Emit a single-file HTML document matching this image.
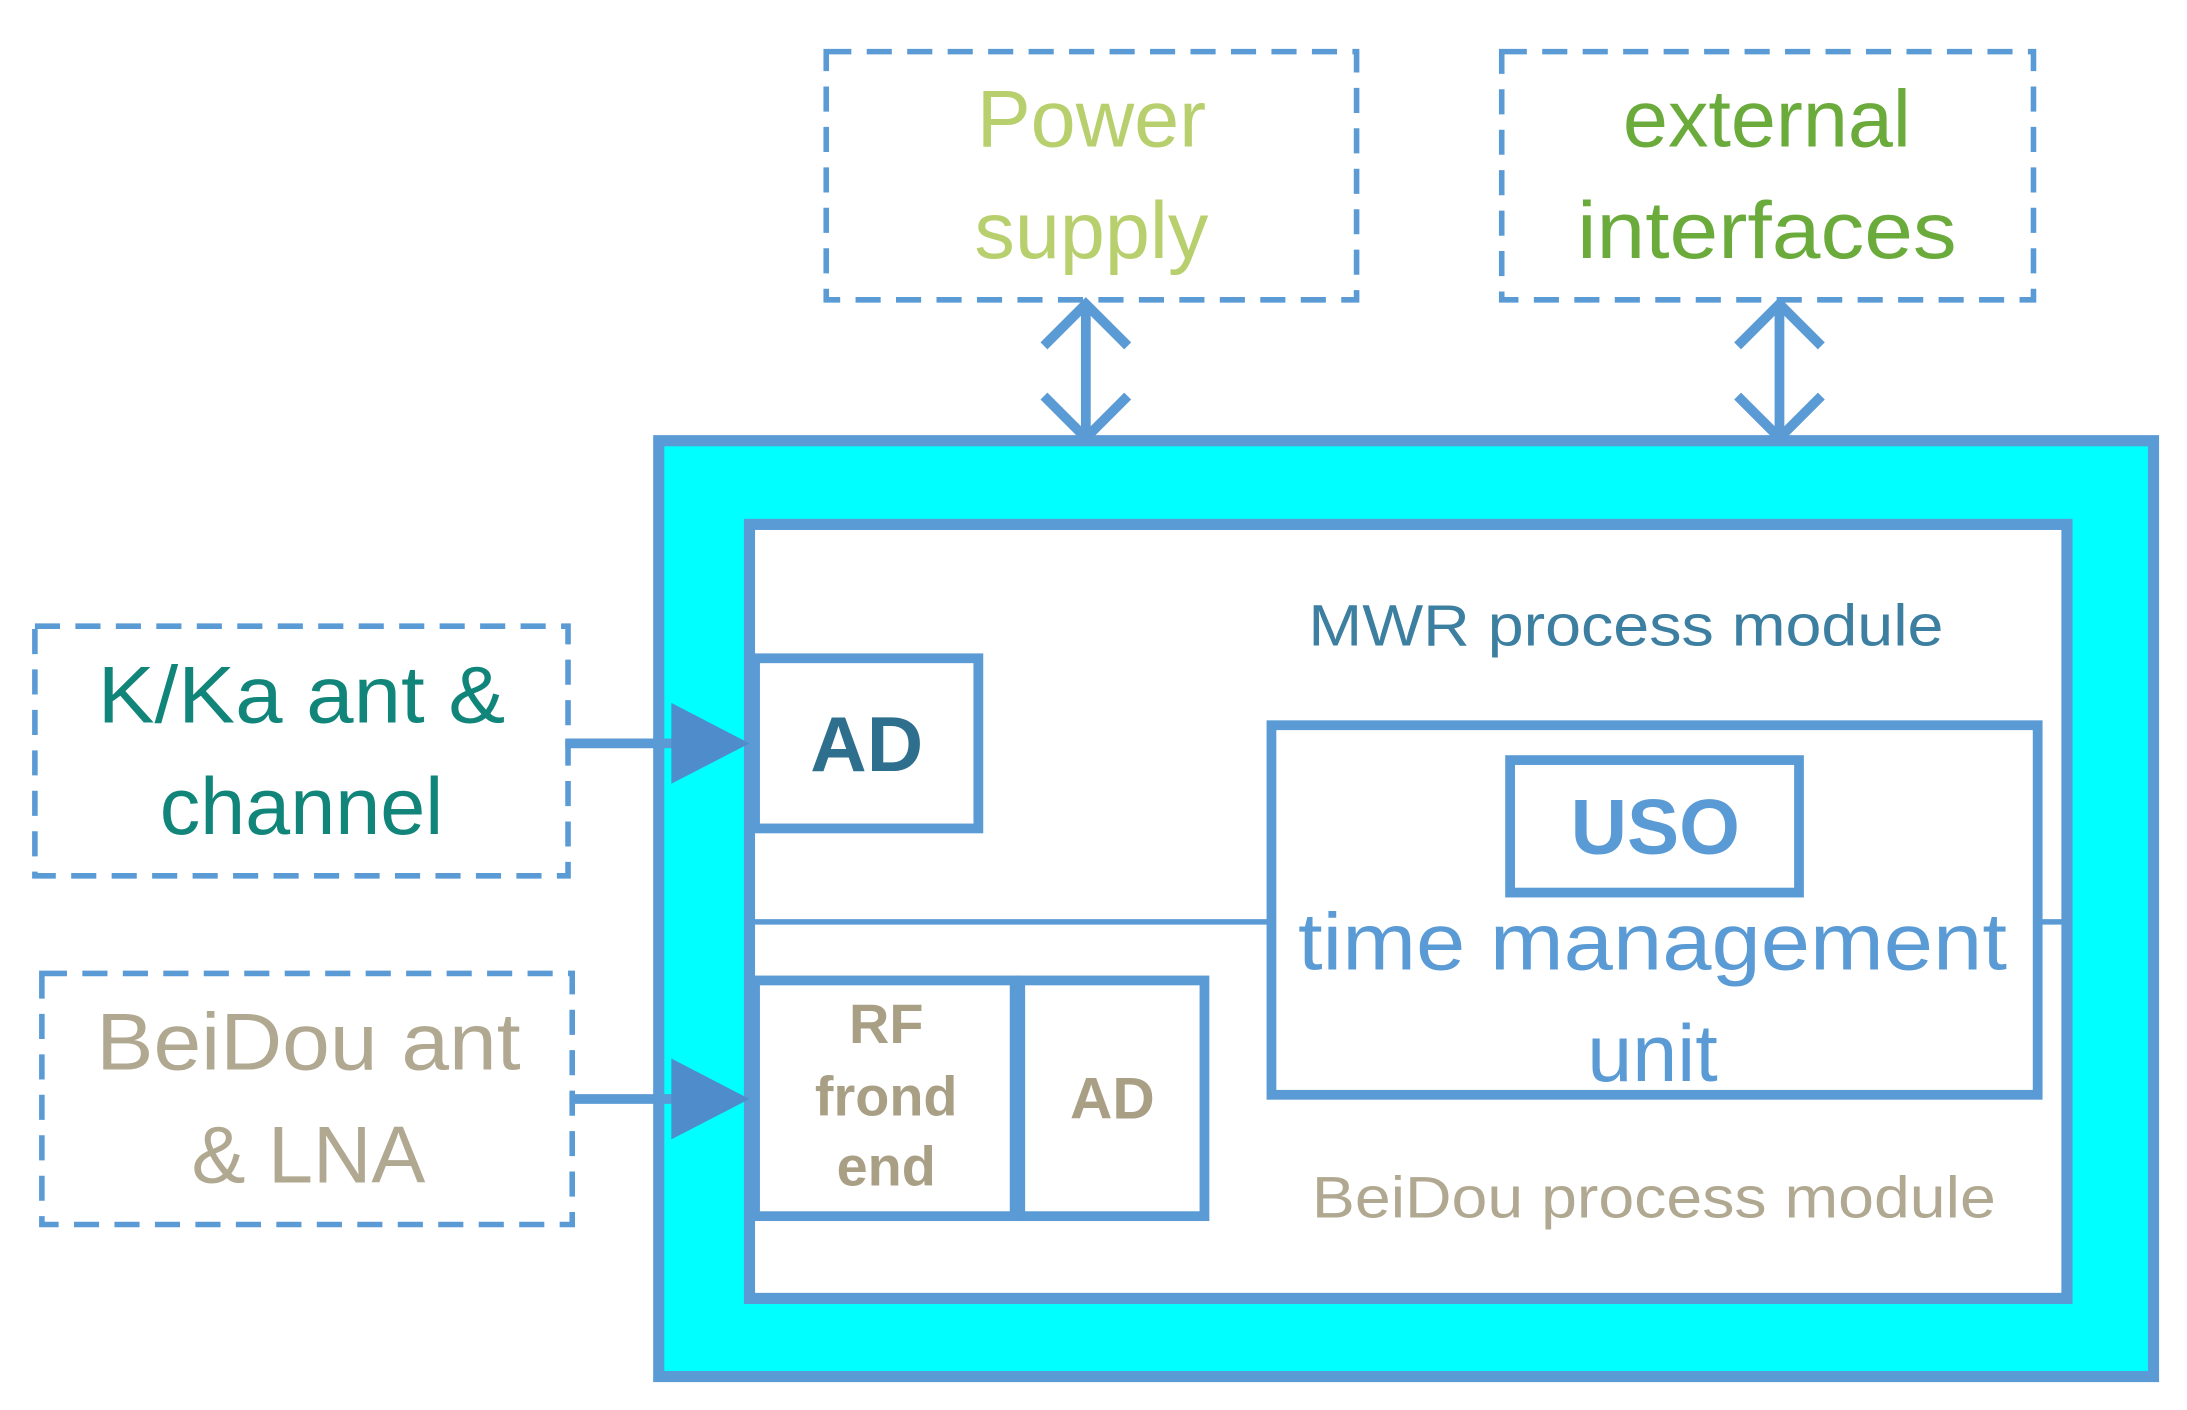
<!DOCTYPE html>
<html><head><style>html,body{margin:0;padding:0;background:#fff}svg{display:block}</style></head>
<body>
<svg width="2187" height="1410" viewBox="0 0 1567 1011" preserveAspectRatio="none" xmlns="http://www.w3.org/2000/svg" font-family="Liberation Sans, sans-serif" text-anchor="middle">
<g fill="none" stroke="#5b9bd5" stroke-width="4" stroke-dasharray="18,11">
<rect x="592" y="37" width="380" height="178"/>
<rect x="1076" y="37" width="381" height="178"/>
<rect x="25" y="449" width="382" height="179"/>
<rect x="30" y="698" width="380" height="180"/>
</g>
<text x="782" y="105" font-size="58" fill="#b8cf6e">Power</text>
<text x="782" y="185" font-size="58" fill="#b8cf6e">supply</text>
<text x="1266" y="105" font-size="58" fill="#6aab3c">external</text>
<text x="1266" y="185" font-size="58" fill="#6aab3c" textLength="272" lengthAdjust="spacingAndGlyphs">interfaces</text>
<text x="216" y="518" font-size="58" fill="#12857a" textLength="292" lengthAdjust="spacingAndGlyphs">K/Ka ant &amp;</text>
<text x="216" y="598" font-size="58" fill="#12857a">channel</text>
<text x="221" y="767" font-size="58" fill="#b0a890" textLength="304" lengthAdjust="spacingAndGlyphs">BeiDou ant</text>
<text x="221" y="848" font-size="58" fill="#b0a890">&amp; LNA</text>
<g stroke="#5b9bd5" stroke-width="7" fill="none">
<line x1="778" y1="218" x2="778" y2="314"/>
<polyline points="748,248 778,218 808,248"/>
<polyline points="748,284 778,314 808,284"/>
<line x1="1275" y1="218" x2="1275" y2="314"/>
<polyline points="1245,248 1275,218 1305,248"/>
<polyline points="1245,284 1275,314 1305,284"/>
</g>
<rect x="472" y="316" width="1071" height="671" fill="#00ffff" stroke="#5b9bd5" stroke-width="8"/>
<rect x="537" y="376" width="944" height="555" fill="#fff" stroke="#5b9bd5" stroke-width="8"/>
<g stroke="#5b9bd5" stroke-width="7" fill="none">
<line x1="405" y1="533" x2="485" y2="533"/>
<line x1="408" y1="788" x2="485" y2="788"/>
</g>
<polygon points="481,504 537,533 481,562" fill="#4e8ccc"/>
<polygon points="481,759 537,788 481,817" fill="#4e8ccc"/>
<line x1="537" y1="661" x2="910" y2="661" stroke="#5b9bd5" stroke-width="4"/>
<line x1="1460" y1="661" x2="1481" y2="661" stroke="#5b9bd5" stroke-width="4"/>
<g fill="none" stroke="#5b9bd5" stroke-width="7">
<rect x="541" y="472" width="160" height="122"/>
<rect x="911" y="520" width="549" height="265"/>
<rect x="1082" y="545" width="207" height="95"/>
<rect x="541" y="703" width="186" height="169"/>
<rect x="731" y="703" width="132" height="169"/>
</g>
<text x="1165" y="463" font-size="42" fill="#3c7fa0" textLength="455" lengthAdjust="spacingAndGlyphs">MWR process module</text>
<text x="621" y="553" font-size="56" font-weight="bold" fill="#2e6f8e">AD</text>
<text x="1186" y="612" font-size="56" font-weight="bold" fill="#5b9bd5">USO</text>
<text x="1184" y="695" font-size="58" fill="#5b9bd5" textLength="508" lengthAdjust="spacingAndGlyphs">time management</text>
<text x="1184" y="775" font-size="58" fill="#5b9bd5">unit</text>
<text x="635" y="748" font-size="40" font-weight="bold" fill="#a89f85">RF</text>
<text x="635" y="800" font-size="40" font-weight="bold" fill="#a89f85">frond</text>
<text x="635" y="850" font-size="40" font-weight="bold" fill="#a89f85">end</text>
<text x="797" y="802" font-size="42" font-weight="bold" fill="#a89f85">AD</text>
<text x="1185" y="873" font-size="42" fill="#b0a890" textLength="490" lengthAdjust="spacingAndGlyphs">BeiDou process module</text>
</svg>
</body></html>
